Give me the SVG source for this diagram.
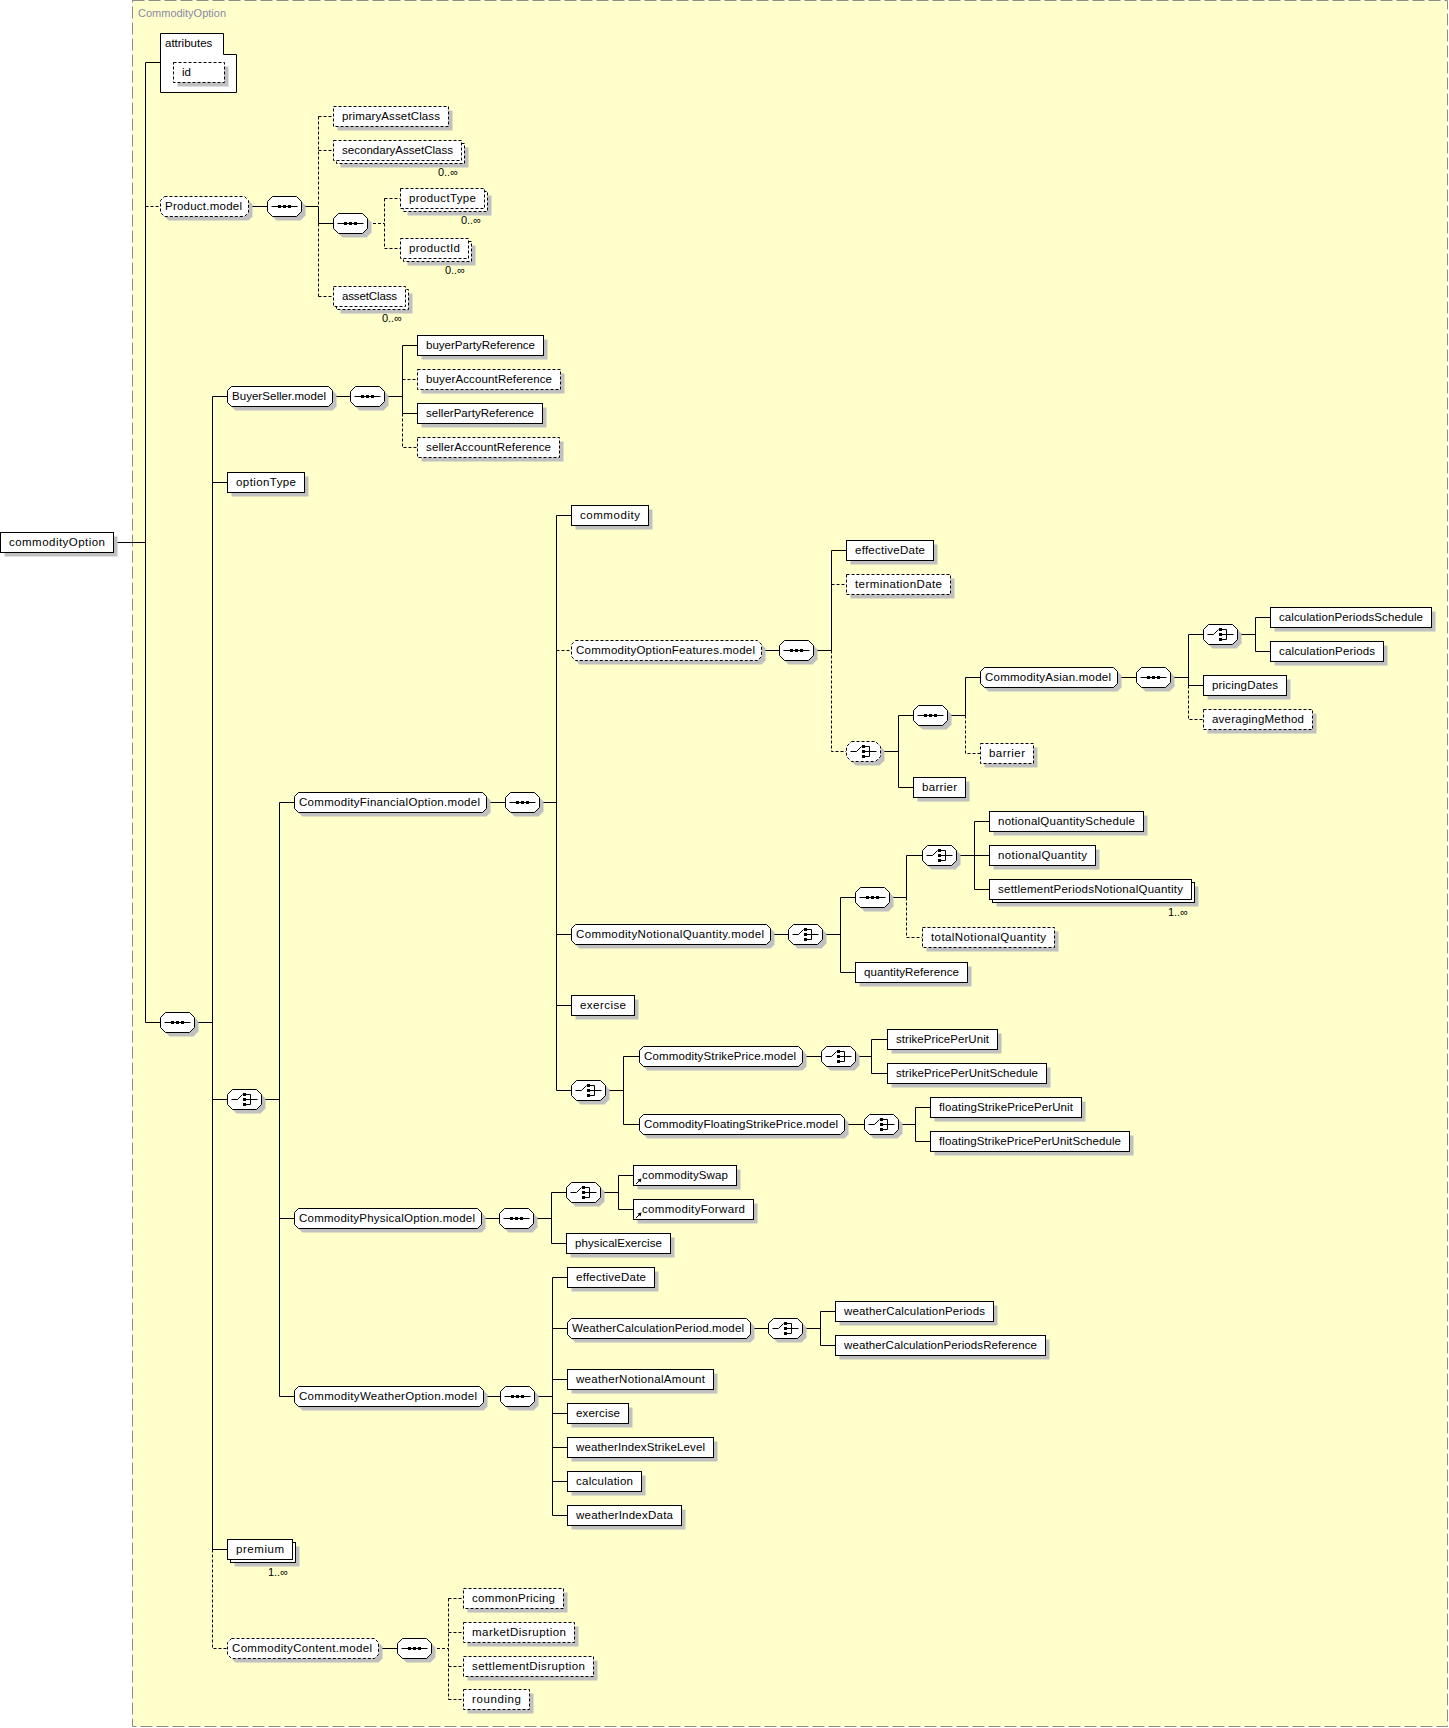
<svg xmlns="http://www.w3.org/2000/svg" xmlns:xlink="http://www.w3.org/1999/xlink" width="1449" height="1728" viewBox="0 0 1449 1728">
<style>
.bg{fill:#ffffcc;stroke:#8c8c8c;stroke-dasharray:12 4}
.e{fill:#fff;stroke:#000}
.o{fill:#fff;stroke:#000;stroke-dasharray:3 2}
.sh{fill:#c0c0c0;stroke:none}
.t{font-family:"Liberation Sans",Arial,sans-serif;font-size:11.5px;fill:#000}
.m{font-family:"Liberation Sans",Arial,sans-serif;font-size:11px;fill:#000;text-anchor:end}
.lbl{font-family:"Liberation Sans",Arial,sans-serif;font-size:11px;fill:#8a8aa8}
.c{fill:none;stroke:#000}
.d{fill:none;stroke:#000;stroke-dasharray:3 2}
</style>
<defs>
<path id="oct" d="M5,0 H29 L34,5 V15 L29,20 H5 L0,15 V5 Z"/>
<g id="seq"><use href="#oct" x="4" y="4" class="sh"/><use href="#oct" class="e"/><path d="M4,10 H30" class="c"/><rect x="10.5" y="8.5" width="3" height="3"/><rect x="15.5" y="8.5" width="3" height="3"/><rect x="20.5" y="8.5" width="3" height="3"/></g>
<g id="choiceIcon"><path d="M4,10 H10 L15,5" class="c"/><rect x="15.5" y="3.5" width="3" height="3"/><rect x="15.5" y="8.5" width="3" height="3"/><rect x="15.5" y="13.5" width="3" height="3"/><path d="M18.5,5 H23 V15 H18.5 M18.5,10 H30" class="c"/></g>
<g id="cho"><use href="#oct" x="4" y="4" class="sh"/><use href="#oct" class="e"/><use href="#choiceIcon"/></g>
<g id="choOpt"><use href="#oct" x="4" y="4" class="sh"/><use href="#oct" class="o"/><use href="#choiceIcon"/></g>
<g id="refArrow"><path d="M2.5,18.5 L6,15" class="c"/><path d="M8,13 L4,14 L7,17 Z"/></g>
</defs>

<g id="container">
<rect class="bg" x="132.5" y="0.5" width="1315" height="1726"/>
<text class="lbl" x="138" y="17">CommodityOption</text>
</g>

<g id="connectors">
<path class="c" d="M113.5,542.5 H145.5 M145.5,62.5 V1022.5 M145.5,62.5 H160.5 M145.5,1022.5 H160.5"/>
<path class="d" d="M145.5,206.5 H160"/>
<path class="c" d="M248.5,206.5 H267 M302,206.5 H318.5 M318.5,206.5 V223.5 H333"/>
<path class="d" d="M318.5,116.5 V206.5 M318.5,223.5 V296.5 M318.5,116.5 H333 M318.5,150.5 H333 M318.5,296.5 H333"/>
<path class="d" d="M368,223.5 H384.5 M384.5,198.5 V248.5 M384.5,198.5 H400 M384.5,248.5 H400"/>
<path class="c" d="M195,1022.5 H212.5 M212.5,396.5 V1549.5 M212.5,396.5 H227 M212.5,482.5 H227 M212.5,1099.5 H227 M212.5,1549.5 H227"/>
<path class="d" d="M212.5,1549.5 V1648.5 H227"/>
<path class="c" d="M332.5,396.5 H350 M385,396.5 H402.5 M402.5,345.5 V413.5 M402.5,345.5 H417 M402.5,413.5 H417"/>
<path class="d" d="M402.5,413.5 V447.5 H417 M402.5,379.5 H417"/>
<path class="c" d="M262,1099.5 H279.5 M279.5,802.5 V1396.5 M279.5,802.5 H294 M279.5,1218.5 H294 M279.5,1396.5 H294"/>
<path class="c" d="M486.5,802.5 H505 M540,802.5 H556.5 M556.5,515.5 V1090.5 M556.5,515.5 H571 M556.5,934.5 H571 M556.5,1005.5 H571 M556.5,1090.5 H571"/>
<path class="d" d="M556.5,650.5 H571"/>
<path class="c" d="M761.5,650.5 H779 M814,650.5 H831.5 M831.5,550.5 V650.5 M831.5,550.5 H846"/>
<path class="d" d="M831.5,650.5 V751.5 H846 M831.5,584.5 H846"/>
<path class="c" d="M881,751.5 H898.5 M898.5,715.5 V787.5 M898.5,715.5 H913 M898.5,787.5 H913"/>
<path class="c" d="M948,715.5 H965.5 M965.5,677.5 V715.5 M965.5,677.5 H980"/>
<path class="d" d="M965.5,715.5 V753.5 H980"/>
<path class="c" d="M1117.5,677.5 H1136 M1171,677.5 H1188.5 M1188.5,634.5 V685.5 M1188.5,634.5 H1203 M1188.5,685.5 H1203"/>
<path class="d" d="M1188.5,685.5 V719.5 H1203"/>
<path class="c" d="M1238,634.5 H1255.5 M1255.5,617.5 V651.5 M1255.5,617.5 H1270 M1255.5,651.5 H1270"/>
<path class="c" d="M770.5,934.5 H788 M823,934.5 H840.5 M840.5,897.5 V972.5 M840.5,897.5 H855 M840.5,972.5 H855"/>
<path class="c" d="M890,897.5 H906.5 M906.5,855.5 V897.5 M906.5,855.5 H922"/>
<path class="d" d="M906.5,897.5 V937.5 H922"/>
<path class="c" d="M957,855.5 H974.5 M974.5,821.5 V889.5 M974.5,821.5 H989 M974.5,855.5 H989 M974.5,889.5 H989"/>
<path class="c" d="M606,1090.5 H623.5 M623.5,1056.5 V1124.5 M623.5,1056.5 H639 M623.5,1124.5 H639"/>
<path class="c" d="M802.5,1056.5 H821 M856,1056.5 H871.5 M871.5,1039.5 V1073.5 M871.5,1039.5 H887 M871.5,1073.5 H887"/>
<path class="c" d="M844.5,1124.5 H864 M899,1124.5 H915.5 M915.5,1107.5 V1141.5 M915.5,1107.5 H930 M915.5,1141.5 H930"/>
<path class="c" d="M481.5,1218.5 H499 M534,1218.5 H551.5 M551.5,1192.5 V1243.5 M551.5,1192.5 H566 M551.5,1243.5 H566"/>
<path class="c" d="M601,1192.5 H618.5 M618.5,1175.5 V1209.5 M618.5,1175.5 H633 M618.5,1209.5 H633"/>
<path class="c" d="M483.5,1396.5 H500 M535,1396.5 H552.5 M552.5,1277.5 V1515.5 M552.5,1277.5 H567 M552.5,1328.5 H567 M552.5,1379.5 H567 M552.5,1413.5 H567 M552.5,1447.5 H567 M552.5,1481.5 H567 M552.5,1515.5 H567"/>
<path class="c" d="M750.5,1328.5 H768 M803,1328.5 H820.5 M820.5,1311.5 V1345.5 M820.5,1311.5 H835 M820.5,1345.5 H835"/>
<path class="c" d="M378.5,1648.5 H397"/>
<path class="d" d="M432,1648.5 H448.5 M448.5,1598.5 V1699.5 M448.5,1598.5 H463 M448.5,1632.5 H463 M448.5,1666.5 H463 M448.5,1699.5 H463"/>
</g>

<g id="n-commodityOption"><rect class="sh" x="4.5" y="536.5" width="113" height="20"/><rect class="e" x="0.5" y="532.5" width="113" height="20"/><text class="t" x="9" y="546" textLength="96">commodityOption</text></g>

<g id="n-attributes"><path class="e" d="M160.5,33.5 H223.5 V54.5 H236.5 V92.5 H160.5 Z"/><text class="t" x="165" y="47">attributes</text></g>
<g id="n-id"><rect class="sh" x="177.5" y="66.5" width="51" height="20"/><rect class="o" x="173.5" y="62.5" width="51" height="20"/><text class="t" x="182" y="76">id</text></g>

<g id="n-Product.model"><path class="sh" transform="translate(4,4)" d="M164.5,196.5 h80 l4,4 v12 l-4,4 h-80 l-4,-4 v-12 z"/><path class="o" d="M164.5,196.5 h80 l4,4 v12 l-4,4 h-80 l-4,-4 v-12 z"/><text class="t" x="165" y="210" textLength="77">Product.model</text></g>
<g id="c-seq-product"><use href="#seq" x="267.5" y="196.5"/></g>
<g id="n-primaryAssetClass"><rect class="sh" x="337.5" y="110.5" width="115" height="20"/><rect class="o" x="333.5" y="106.5" width="115" height="20"/><text class="t" x="342" y="120" textLength="98">primaryAssetClass</text></g>
<g id="n-secondaryAssetClass"><rect class="sh" x="340.5" y="147.5" width="128" height="20"/><rect class="o" x="336.5" y="143.5" width="128" height="20"/><rect class="o" x="333.5" y="140.5" width="128" height="20"/><text class="t" x="342" y="154" textLength="111">secondaryAssetClass</text><text class="m" x="458" y="176">0..∞</text></g>
<g id="c-seq-product2"><use href="#seq" x="333.5" y="213.5"/></g>
<g id="n-productType"><rect class="sh" x="407.5" y="195.5" width="84" height="20"/><rect class="o" x="403.5" y="191.5" width="84" height="20"/><rect class="o" x="400.5" y="188.5" width="84" height="20"/><text class="t" x="409" y="202" textLength="67">productType</text><text class="m" x="481" y="224">0..∞</text></g>
<g id="n-productId"><rect class="sh" x="407.5" y="245.5" width="68" height="20"/><rect class="o" x="403.5" y="241.5" width="68" height="20"/><rect class="o" x="400.5" y="238.5" width="68" height="20"/><text class="t" x="409" y="252" textLength="51">productId</text><text class="m" x="465" y="274">0..∞</text></g>
<g id="n-assetClass"><rect class="sh" x="340.5" y="293.5" width="72" height="20"/><rect class="o" x="336.5" y="289.5" width="72" height="20"/><rect class="o" x="333.5" y="286.5" width="72" height="20"/><text class="t" x="342" y="300" textLength="55">assetClass</text><text class="m" x="402" y="322">0..∞</text></g>

<g id="c-seq-main"><use href="#seq" x="160.5" y="1012.5"/></g>

<g id="n-BuyerSeller.model"><path class="sh" transform="translate(4,4)" d="M231.5,386.5 h97 l4,4 v12 l-4,4 h-97 l-4,-4 v-12 z"/><path class="e" d="M231.5,386.5 h97 l4,4 v12 l-4,4 h-97 l-4,-4 v-12 z"/><text class="t" x="232" y="400" textLength="94">BuyerSeller.model</text></g>
<g id="c-seq-buyerseller"><use href="#seq" x="350.5" y="386.5"/></g>
<g id="n-buyerPartyReference"><rect class="sh" x="421.5" y="339.5" width="126" height="20"/><rect class="e" x="417.5" y="335.5" width="126" height="20"/><text class="t" x="426" y="349" textLength="109">buyerPartyReference</text></g>
<g id="n-buyerAccountReference"><rect class="sh" x="421.5" y="373.5" width="143" height="20"/><rect class="o" x="417.5" y="369.5" width="143" height="20"/><text class="t" x="426" y="383" textLength="126">buyerAccountReference</text></g>
<g id="n-sellerPartyReference"><rect class="sh" x="421.5" y="407.5" width="125" height="20"/><rect class="e" x="417.5" y="403.5" width="125" height="20"/><text class="t" x="426" y="417" textLength="108">sellerPartyReference</text></g>
<g id="n-sellerAccountReference"><rect class="sh" x="421.5" y="441.5" width="142" height="20"/><rect class="o" x="417.5" y="437.5" width="142" height="20"/><text class="t" x="426" y="451" textLength="125">sellerAccountReference</text></g>
<g id="n-optionType"><rect class="sh" x="231.5" y="476.5" width="77" height="20"/><rect class="e" x="227.5" y="472.5" width="77" height="20"/><text class="t" x="236" y="486" textLength="60">optionType</text></g>

<g id="c-choice-main"><use href="#cho" x="227.5" y="1089.5"/></g>

<g id="n-CommodityFinancialOption.model"><path class="sh" transform="translate(4,4)" d="M298.5,792.5 h184 l4,4 v12 l-4,4 h-184 l-4,-4 v-12 z"/><path class="e" d="M298.5,792.5 h184 l4,4 v12 l-4,4 h-184 l-4,-4 v-12 z"/><text class="t" x="299" y="806" textLength="181">CommodityFinancialOption.model</text></g>
<g id="c-seq-financial"><use href="#seq" x="505.5" y="792.5"/></g>
<g id="n-commodity"><rect class="sh" x="575.5" y="509.5" width="77" height="20"/><rect class="e" x="571.5" y="505.5" width="77" height="20"/><text class="t" x="580" y="519" textLength="60">commodity</text></g>

<g id="n-CommodityOptionFeatures.model"><path class="sh" transform="translate(4,4)" d="M575.5,640.5 h182 l4,4 v12 l-4,4 h-182 l-4,-4 v-12 z"/><path class="o" d="M575.5,640.5 h182 l4,4 v12 l-4,4 h-182 l-4,-4 v-12 z"/><text class="t" x="576" y="654" textLength="179">CommodityOptionFeatures.model</text></g>
<g id="c-seq-cof"><use href="#seq" x="779.5" y="640.5"/></g>
<g id="n-effectiveDate"><rect class="sh" x="850.5" y="544.5" width="87" height="20"/><rect class="e" x="846.5" y="540.5" width="87" height="20"/><text class="t" x="855" y="554" textLength="70">effectiveDate</text></g>
<g id="n-terminationDate"><rect class="sh" x="850.5" y="578.5" width="104" height="20"/><rect class="o" x="846.5" y="574.5" width="104" height="20"/><text class="t" x="855" y="588" textLength="87">terminationDate</text></g>
<g id="c-choice-cof"><use href="#choOpt" x="846.5" y="741.5"/></g>
<g id="c-seq-cof2"><use href="#seq" x="913.5" y="705.5"/></g>
<g id="n-CommodityAsian.model"><path class="sh" transform="translate(4,4)" d="M984.5,667.5 h129 l4,4 v12 l-4,4 h-129 l-4,-4 v-12 z"/><path class="e" d="M984.5,667.5 h129 l4,4 v12 l-4,4 h-129 l-4,-4 v-12 z"/><text class="t" x="985" y="681" textLength="126">CommodityAsian.model</text></g>
<g id="c-seq-asian"><use href="#seq" x="1136.5" y="667.5"/></g>
<g id="c-choice-asian"><use href="#cho" x="1203.5" y="624.5"/></g>
<g id="n-calculationPeriodsSchedule"><rect class="sh" x="1274.5" y="611.5" width="161" height="20"/><rect class="e" x="1270.5" y="607.5" width="161" height="20"/><text class="t" x="1279" y="621" textLength="144">calculationPeriodsSchedule</text></g>
<g id="n-calculationPeriods"><rect class="sh" x="1274.5" y="645.5" width="113" height="20"/><rect class="e" x="1270.5" y="641.5" width="113" height="20"/><text class="t" x="1279" y="655" textLength="96">calculationPeriods</text></g>
<g id="n-pricingDates"><rect class="sh" x="1207.5" y="679.5" width="83" height="20"/><rect class="e" x="1203.5" y="675.5" width="83" height="20"/><text class="t" x="1212" y="689" textLength="66">pricingDates</text></g>
<g id="n-averagingMethod"><rect class="sh" x="1207.5" y="713.5" width="109" height="20"/><rect class="o" x="1203.5" y="709.5" width="109" height="20"/><text class="t" x="1212" y="723" textLength="92">averagingMethod</text></g>
<g id="n-barrier-optional"><rect class="sh" x="984.5" y="747.5" width="53" height="20"/><rect class="o" x="980.5" y="743.5" width="53" height="20"/><text class="t" x="989" y="757" textLength="36">barrier</text></g>
<g id="n-barrier"><rect class="sh" x="917.5" y="781.5" width="52" height="20"/><rect class="e" x="913.5" y="777.5" width="52" height="20"/><text class="t" x="922" y="791" textLength="35">barrier</text></g>

<g id="n-CommodityNotionalQuantity.model"><path class="sh" transform="translate(4,4)" d="M575.5,924.5 h191 l4,4 v12 l-4,4 h-191 l-4,-4 v-12 z"/><path class="e" d="M575.5,924.5 h191 l4,4 v12 l-4,4 h-191 l-4,-4 v-12 z"/><text class="t" x="576" y="938" textLength="188">CommodityNotionalQuantity.model</text></g>
<g id="c-choice-cnq"><use href="#cho" x="788.5" y="924.5"/></g>
<g id="c-seq-cnq"><use href="#seq" x="855.5" y="887.5"/></g>
<g id="c-choice-cnq2"><use href="#cho" x="922.5" y="845.5"/></g>
<g id="n-notionalQuantitySchedule"><rect class="sh" x="993.5" y="815.5" width="154" height="20"/><rect class="e" x="989.5" y="811.5" width="154" height="20"/><text class="t" x="998" y="825" textLength="137">notionalQuantitySchedule</text></g>
<g id="n-notionalQuantity"><rect class="sh" x="993.5" y="849.5" width="106" height="20"/><rect class="e" x="989.5" y="845.5" width="106" height="20"/><text class="t" x="998" y="859" textLength="89">notionalQuantity</text></g>
<g id="n-settlementPeriodsNotionalQuantity"><rect class="sh" x="996.5" y="886.5" width="202" height="20"/><rect class="e" x="992.5" y="882.5" width="202" height="20"/><rect class="e" x="989.5" y="879.5" width="202" height="20"/><text class="t" x="998" y="893" textLength="185">settlementPeriodsNotionalQuantity</text><text class="m" x="1188" y="916">1..∞</text></g>
<g id="n-totalNotionalQuantity"><rect class="sh" x="926.5" y="931.5" width="132" height="20"/><rect class="o" x="922.5" y="927.5" width="132" height="20"/><text class="t" x="931" y="941" textLength="115">totalNotionalQuantity</text></g>
<g id="n-quantityReference"><rect class="sh" x="859.5" y="966.5" width="112" height="20"/><rect class="e" x="855.5" y="962.5" width="112" height="20"/><text class="t" x="864" y="976" textLength="95">quantityReference</text></g>
<g id="n-exercise"><rect class="sh" x="575.5" y="999.5" width="63" height="20"/><rect class="e" x="571.5" y="995.5" width="63" height="20"/><text class="t" x="580" y="1009" textLength="46">exercise</text></g>

<g id="c-choice-strike"><use href="#cho" x="571.5" y="1080.5"/></g>
<g id="n-CommodityStrikePrice.model"><path class="sh" transform="translate(4,4)" d="M643.5,1046.5 h155 l4,4 v12 l-4,4 h-155 l-4,-4 v-12 z"/><path class="e" d="M643.5,1046.5 h155 l4,4 v12 l-4,4 h-155 l-4,-4 v-12 z"/><text class="t" x="644" y="1060" textLength="152">CommodityStrikePrice.model</text></g>
<g id="c-choice-strike2"><use href="#cho" x="821.5" y="1046.5"/></g>
<g id="n-strikePricePerUnit"><rect class="sh" x="891.5" y="1033.5" width="110" height="20"/><rect class="e" x="887.5" y="1029.5" width="110" height="20"/><text class="t" x="896" y="1043" textLength="93">strikePricePerUnit</text></g>
<g id="n-strikePricePerUnitSchedule"><rect class="sh" x="891.5" y="1067.5" width="159" height="20"/><rect class="e" x="887.5" y="1063.5" width="159" height="20"/><text class="t" x="896" y="1077" textLength="142">strikePricePerUnitSchedule</text></g>
<g id="n-CommodityFloatingStrikePrice.model"><path class="sh" transform="translate(4,4)" d="M643.5,1114.5 h197 l4,4 v12 l-4,4 h-197 l-4,-4 v-12 z"/><path class="e" d="M643.5,1114.5 h197 l4,4 v12 l-4,4 h-197 l-4,-4 v-12 z"/><text class="t" x="644" y="1128" textLength="194">CommodityFloatingStrikePrice.model</text></g>
<g id="c-choice-floating"><use href="#cho" x="864.5" y="1114.5"/></g>
<g id="n-floatingStrikePricePerUnit"><rect class="sh" x="934.5" y="1101.5" width="151" height="20"/><rect class="e" x="930.5" y="1097.5" width="151" height="20"/><text class="t" x="939" y="1111" textLength="134">floatingStrikePricePerUnit</text></g>
<g id="n-floatingStrikePricePerUnitSchedule"><rect class="sh" x="934.5" y="1135.5" width="199" height="20"/><rect class="e" x="930.5" y="1131.5" width="199" height="20"/><text class="t" x="939" y="1145" textLength="182">floatingStrikePricePerUnitSchedule</text></g>

<g id="n-CommodityPhysicalOption.model"><path class="sh" transform="translate(4,4)" d="M298.5,1208.5 h179 l4,4 v12 l-4,4 h-179 l-4,-4 v-12 z"/><path class="e" d="M298.5,1208.5 h179 l4,4 v12 l-4,4 h-179 l-4,-4 v-12 z"/><text class="t" x="299" y="1222" textLength="176">CommodityPhysicalOption.model</text></g>
<g id="c-seq-physical"><use href="#seq" x="499.5" y="1208.5"/></g>
<g id="c-choice-physical"><use href="#cho" x="566.5" y="1182.5"/></g>
<g id="n-commoditySwap"><rect class="sh" x="637.5" y="1169.5" width="103" height="20"/><rect class="e" x="633.5" y="1165.5" width="103" height="20"/><use href="#refArrow" x="633.5" y="1165.5"/><text class="t" x="642" y="1179" textLength="86">commoditySwap</text></g>
<g id="n-commodityForward"><rect class="sh" x="637.5" y="1203.5" width="120" height="20"/><rect class="e" x="633.5" y="1199.5" width="120" height="20"/><use href="#refArrow" x="633.5" y="1199.5"/><text class="t" x="642" y="1213" textLength="103">commodityForward</text></g>
<g id="n-physicalExercise"><rect class="sh" x="570.5" y="1237.5" width="104" height="20"/><rect class="e" x="566.5" y="1233.5" width="104" height="20"/><text class="t" x="575" y="1247" textLength="87">physicalExercise</text></g>

<g id="n-CommodityWeatherOption.model"><path class="sh" transform="translate(4,4)" d="M298.5,1386.5 h181 l4,4 v12 l-4,4 h-181 l-4,-4 v-12 z"/><path class="e" d="M298.5,1386.5 h181 l4,4 v12 l-4,4 h-181 l-4,-4 v-12 z"/><text class="t" x="299" y="1400" textLength="178">CommodityWeatherOption.model</text></g>
<g id="c-seq-weather"><use href="#seq" x="500.5" y="1386.5"/></g>
<g id="n-effectiveDate-weather"><rect class="sh" x="571.5" y="1271.5" width="87" height="20"/><rect class="e" x="567.5" y="1267.5" width="87" height="20"/><text class="t" x="576" y="1281" textLength="70">effectiveDate</text></g>
<g id="n-WeatherCalculationPeriod.model"><path class="sh" transform="translate(4,4)" d="M571.5,1318.5 h175 l4,4 v12 l-4,4 h-175 l-4,-4 v-12 z"/><path class="e" d="M571.5,1318.5 h175 l4,4 v12 l-4,4 h-175 l-4,-4 v-12 z"/><text class="t" x="572" y="1332" textLength="172">WeatherCalculationPeriod.model</text></g>
<g id="c-choice-weather"><use href="#cho" x="768.5" y="1318.5"/></g>
<g id="n-weatherCalculationPeriods"><rect class="sh" x="839.5" y="1305.5" width="158" height="20"/><rect class="e" x="835.5" y="1301.5" width="158" height="20"/><text class="t" x="844" y="1315" textLength="141">weatherCalculationPeriods</text></g>
<g id="n-weatherCalculationPeriodsReference"><rect class="sh" x="839.5" y="1339.5" width="210" height="20"/><rect class="e" x="835.5" y="1335.5" width="210" height="20"/><text class="t" x="844" y="1349" textLength="193">weatherCalculationPeriodsReference</text></g>
<g id="n-weatherNotionalAmount"><rect class="sh" x="571.5" y="1373.5" width="146" height="20"/><rect class="e" x="567.5" y="1369.5" width="146" height="20"/><text class="t" x="576" y="1383" textLength="129">weatherNotionalAmount</text></g>
<g id="n-exercise-weather"><rect class="sh" x="571.5" y="1407.5" width="61" height="20"/><rect class="e" x="567.5" y="1403.5" width="61" height="20"/><text class="t" x="576" y="1417" textLength="44">exercise</text></g>
<g id="n-weatherIndexStrikeLevel"><rect class="sh" x="571.5" y="1441.5" width="146" height="20"/><rect class="e" x="567.5" y="1437.5" width="146" height="20"/><text class="t" x="576" y="1451" textLength="129">weatherIndexStrikeLevel</text></g>
<g id="n-calculation"><rect class="sh" x="571.5" y="1475.5" width="74" height="20"/><rect class="e" x="567.5" y="1471.5" width="74" height="20"/><text class="t" x="576" y="1485" textLength="57">calculation</text></g>
<g id="n-weatherIndexData"><rect class="sh" x="571.5" y="1509.5" width="114" height="20"/><rect class="e" x="567.5" y="1505.5" width="114" height="20"/><text class="t" x="576" y="1519" textLength="97">weatherIndexData</text></g>

<g id="n-premium"><rect class="sh" x="234.5" y="1546.5" width="65" height="20"/><rect class="e" x="230.5" y="1542.5" width="65" height="20"/><rect class="e" x="227.5" y="1539.5" width="65" height="20"/><text class="t" x="236" y="1553" textLength="48">premium</text><text class="m" x="288" y="1576">1..∞</text></g>

<g id="n-CommodityContent.model"><path class="sh" transform="translate(4,4)" d="M231.5,1638.5 h143 l4,4 v12 l-4,4 h-143 l-4,-4 v-12 z"/><path class="o" d="M231.5,1638.5 h143 l4,4 v12 l-4,4 h-143 l-4,-4 v-12 z"/><text class="t" x="232" y="1652" textLength="140">CommodityContent.model</text></g>
<g id="c-seq-content"><use href="#seq" x="397.5" y="1638.5"/></g>
<g id="n-commonPricing"><rect class="sh" x="467.5" y="1592.5" width="100" height="20"/><rect class="o" x="463.5" y="1588.5" width="100" height="20"/><text class="t" x="472" y="1602" textLength="83">commonPricing</text></g>
<g id="n-marketDisruption"><rect class="sh" x="467.5" y="1626.5" width="111" height="20"/><rect class="o" x="463.5" y="1622.5" width="111" height="20"/><text class="t" x="472" y="1636" textLength="94">marketDisruption</text></g>
<g id="n-settlementDisruption"><rect class="sh" x="467.5" y="1660.5" width="130" height="20"/><rect class="o" x="463.5" y="1656.5" width="130" height="20"/><text class="t" x="472" y="1670" textLength="113">settlementDisruption</text></g>
<g id="n-rounding"><rect class="sh" x="467.5" y="1693.5" width="66" height="20"/><rect class="o" x="463.5" y="1689.5" width="66" height="20"/><text class="t" x="472" y="1703" textLength="49">rounding</text></g>
</svg>
